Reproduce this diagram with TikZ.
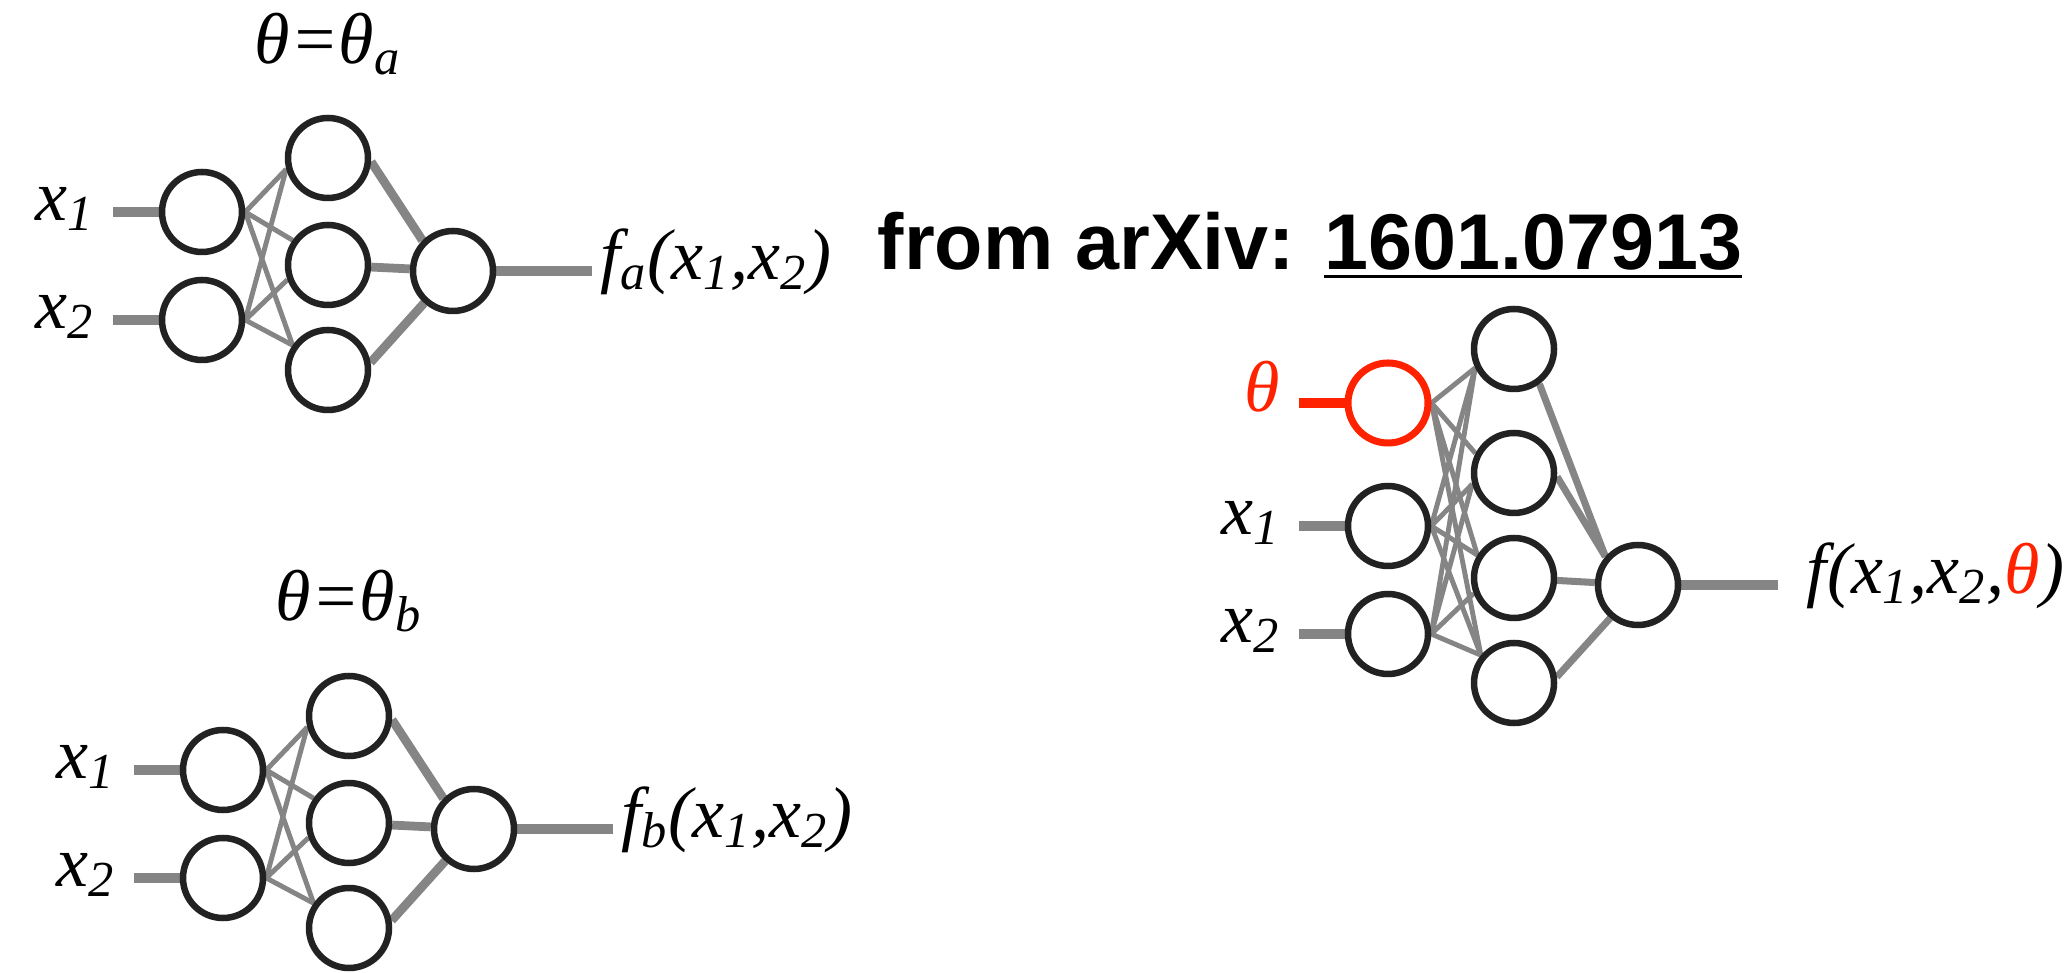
\documentclass[tikz,border=0pt]{standalone}
\usepackage{fontspec}
\setmainfont{Liberation Serif}
\newfontfamily\headfont{Liberation Sans}
\usetikzlibrary{positioning,backgrounds}
\definecolor{wire}{HTML}{858585}
\definecolor{ink}{HTML}{222222}
\definecolor{thetared}{HTML}{FF2200}
\newcommand\arxivul[1]{\setbox0\hbox{#1}\rlap{\rule[-2.4pt]{\wd0}{0.9pt}}\box0}

\begin{document}
\begin{tikzpicture}[
    x=0.1mm, y=-0.1mm,
    neuron/.style={
        circle,
        draw=ink,
        fill=white,
        line width=1.85pt,
        minimum size=8mm,
        inner sep=0pt
    },
    bias/.style={neuron, draw=thetared, line width=2pt},
    lbl/.style={font=\fontsize{20.5}{24}\selectfont\itshape, inner sep=0pt},
    head/.style={font=\headfont\bfseries\fontsize{22.5}{27}\selectfont, inner sep=0pt},
    inw/.style={draw=wire, line width=2.85pt, shorten <=1.8mm},
    outw/.style={draw=wire, line width=2.85pt, shorten >=0.8mm},
    syn/.style={draw=wire, line width=1.4pt},
    fat/.style={draw=wire, line width=2.5pt}
]
    \useasboundingbox (0,0) rectangle (2071,973);

    %% Netz a
    \node[neuron] (a1) at (202,212) {};
    \node[neuron] (a2) at (202,320) {};
    \node[neuron] (ah1) at (328,158) {};
    \node[neuron] (ah2) at (328,265) {};
    \node[neuron] (ah3) at (328,370) {};
    \node[neuron] (ao) at (453,271) {};
    \node[lbl, above=5.1mm of ah1, anchor=base] (atheta) {θ=θ\textsubscript{a}};
    \node[lbl, left=6.4mm of a1, anchor=mid east] (ax1) {x\textsubscript{1}};
    \node[lbl, left=6.4mm of a2, anchor=mid east] (ax2) {x\textsubscript{2}};
    \node[lbl, right=10.4mm of ao, anchor=mid west] (afa) {f\textsubscript{a}(x\textsubscript{1},x\textsubscript{2})};

    %% Netz b
    \node[neuron] (b1) at (223,770) {};
    \node[neuron] (b2) at (223,878) {};
    \node[neuron] (bh1) at (349,716) {};
    \node[neuron] (bh2) at (349,823) {};
    \node[neuron] (bh3) at (349,928) {};
    \node[neuron] (bo) at (474,829) {};
    \node[lbl, above=5.2mm of bh1, anchor=base] (btheta) {θ=θ\textsubscript{b}};
    \node[lbl, left=6.4mm of b1, anchor=mid east] (bx1) {x\textsubscript{1}};
    \node[lbl, left=6.4mm of b2, anchor=mid east] (bx2) {x\textsubscript{2}};
    \node[lbl, right=10.4mm of bo, anchor=mid west] (bfb) {f\textsubscript{b}(x\textsubscript{1},x\textsubscript{2})};

    %% Netz mit theta als Eingang
    \node[bias] (ct) at (1388,403) {};
    \node[neuron] (c1) at (1388,526) {};
    \node[neuron] (c2) at (1388,634) {};
    \node[neuron] (ch1) at (1514,349) {};
    \node[neuron] (ch2) at (1514,473) {};
    \node[neuron] (ch3) at (1514,578) {};
    \node[neuron] (ch4) at (1514,683) {};
    \node[neuron] (co) at (1638,585) {};
    \node[lbl, text=thetared, left=6.4mm of ct, anchor=mid east] (cth) {θ};
    \node[lbl, left=6.4mm of c1, anchor=mid east] (cx1) {x\textsubscript{1}};
    \node[lbl, left=6.4mm of c2, anchor=mid east] (cx2) {x\textsubscript{2}};
    \node[lbl, right=12.5mm of co, anchor=mid west] (cf) {f(x\textsubscript{1},x\textsubscript{2},\textcolor{thetared}{θ})};

    %% Quelle
    \node[head, anchor=base west] (src) at (877,270) {from arXiv: \arxivul{1601.07913}};

    %% Verbindungen
    \begin{pgfonlayer}{background}
        \draw[inw] (ax1.mid east) -- (a1);
        \draw[inw] (ax2.mid east) -- (a2);
        \draw[syn] (a1.east) -- (ah1.195) (a1.east) -- (ah2.145) (a1.east) -- (ah3.145);
        \draw[syn] (a2.east) -- (ah1.195) (a2.east) -- (ah2.200) (a2.east) -- (ah3.145);
        \draw[fat] (ah1.-5) -- (ao.135);
        \draw[fat] (ah2) -- (ao);
        \draw[fat] (ah3.10) -- (ao.228);
        \draw[outw] (ao) -- (afa.mid west);

        \draw[inw] (bx1.mid east) -- (b1);
        \draw[inw] (bx2.mid east) -- (b2);
        \draw[syn] (b1.east) -- (bh1.195) (b1.east) -- (bh2.145) (b1.east) -- (bh3.145);
        \draw[syn] (b2.east) -- (bh1.195) (b2.east) -- (bh2.200) (b2.east) -- (bh3.145);
        \draw[fat] (bh1.-5) -- (bo.135);
        \draw[fat] (bh2) -- (bo);
        \draw[fat] (bh3.10) -- (bo.228);
        \draw[outw] (bo) -- (bfb.mid west);

        \draw[inw, draw=thetared] (cth.mid east) -- (ct);
        \draw[inw] (cx1.mid east) -- (c1);
        \draw[inw] (cx2.mid east) -- (c2);
        \draw[syn] (ct.east) -- (ch1.206) (ct.east) -- (ch2.153) (ct.east) -- (ch3.148) (ct.east) -- (ch4.140);
        \draw[syn] (c1.east) -- (ch1.206) (c1.east) -- (ch2.195) (c1.east) -- (ch3.148) (c1.east) -- (ch4.140);
        \draw[syn] (c2.east) -- (ch1.206) (c2.east) -- (ch2.195) (c2.east) -- (ch3.201) (c2.east) -- (ch4.140);
        \draw[fat, line width=2pt] (ch1.-54) -- (co.139);
        \draw[fat, line width=2pt] (ch2.-5) -- (co.139);
        \draw[fat, line width=2pt] (ch3) -- (co);
        \draw[fat, line width=2pt] (ch4.8) -- (co.230);
        \draw[outw, shorten >=2.8mm] (co) -- (cf.mid west);
    \end{pgfonlayer}
\end{tikzpicture}
\end{document}
